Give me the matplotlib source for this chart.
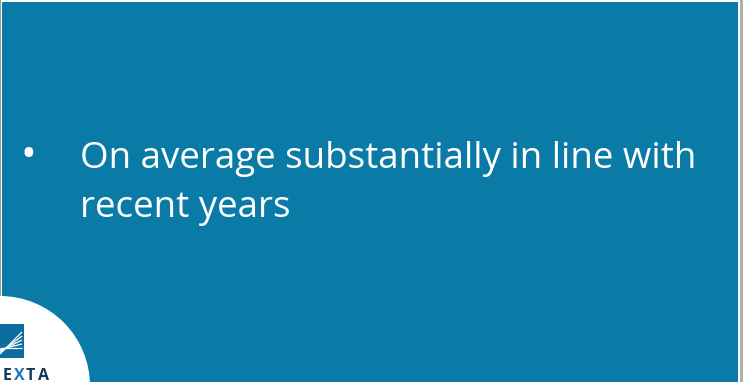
import matplotlib
matplotlib.use("Agg")
import matplotlib.pyplot as plt
from matplotlib.patches import Rectangle, Circle

bullet_lines = ["On average substantially in line with", "recent years"]
logo_letters = ["E", "X", "T", "A"]

W, H = 743, 382
fig = plt.figure(figsize=(W / 100, H / 100), dpi=100)
fig.patch.set_facecolor("white")
ax = fig.add_axes([0, 0, 1, 1])
ax.set_xlim(0, W)
ax.set_ylim(H, 0)
ax.axis("off")

blue = "#0A7BA6"
# slide background
ax.add_patch(Rectangle((1.5, 2), 736.5, 382, facecolor=blue, edgecolor="none"))
ax.add_patch(Rectangle((0, 0), 1.2, H, facecolor="#9a9a9a", edgecolor="none"))
ax.add_patch(Rectangle((739.5, 0), 3.5, H, facecolor="#b0b0b0", edgecolor="none"))

# bullet text
ax.text(28, 156, "•", color="white", fontsize=30, family="Open Sans",
        ha="center", va="center")
for i, line in enumerate(bullet_lines):
    ax.text(80, 168 + i * 49, line, color="white", fontsize=26.5,
            family="Open Sans", ha="left", va="baseline")

# logo circle
ax.add_patch(Circle((0, 386), 90, facecolor="white", edgecolor="none"))
ax.add_patch(Rectangle((0, 324), 24, 34, facecolor="#0A6E9E", edgecolor="none"))
for k in range(5):
    ax.plot([0, 22], [354 - k * 1.5, 332 + k * 4], color="white", lw=0.9,
            solid_capstyle="butt")
logo_colors = ["#0E3A5E", "#1A78B8", "#0E3A5E", "#0E3A5E"]
for i, (ch, c) in enumerate(zip(logo_letters, logo_colors)):
    ax.text(3 + i * 11.5, 379.5, ch, color=c, fontsize=11.5, fontweight="bold",
            family="Open Sans", ha="left", va="baseline")

fig.savefig("out.png", dpi=100)
